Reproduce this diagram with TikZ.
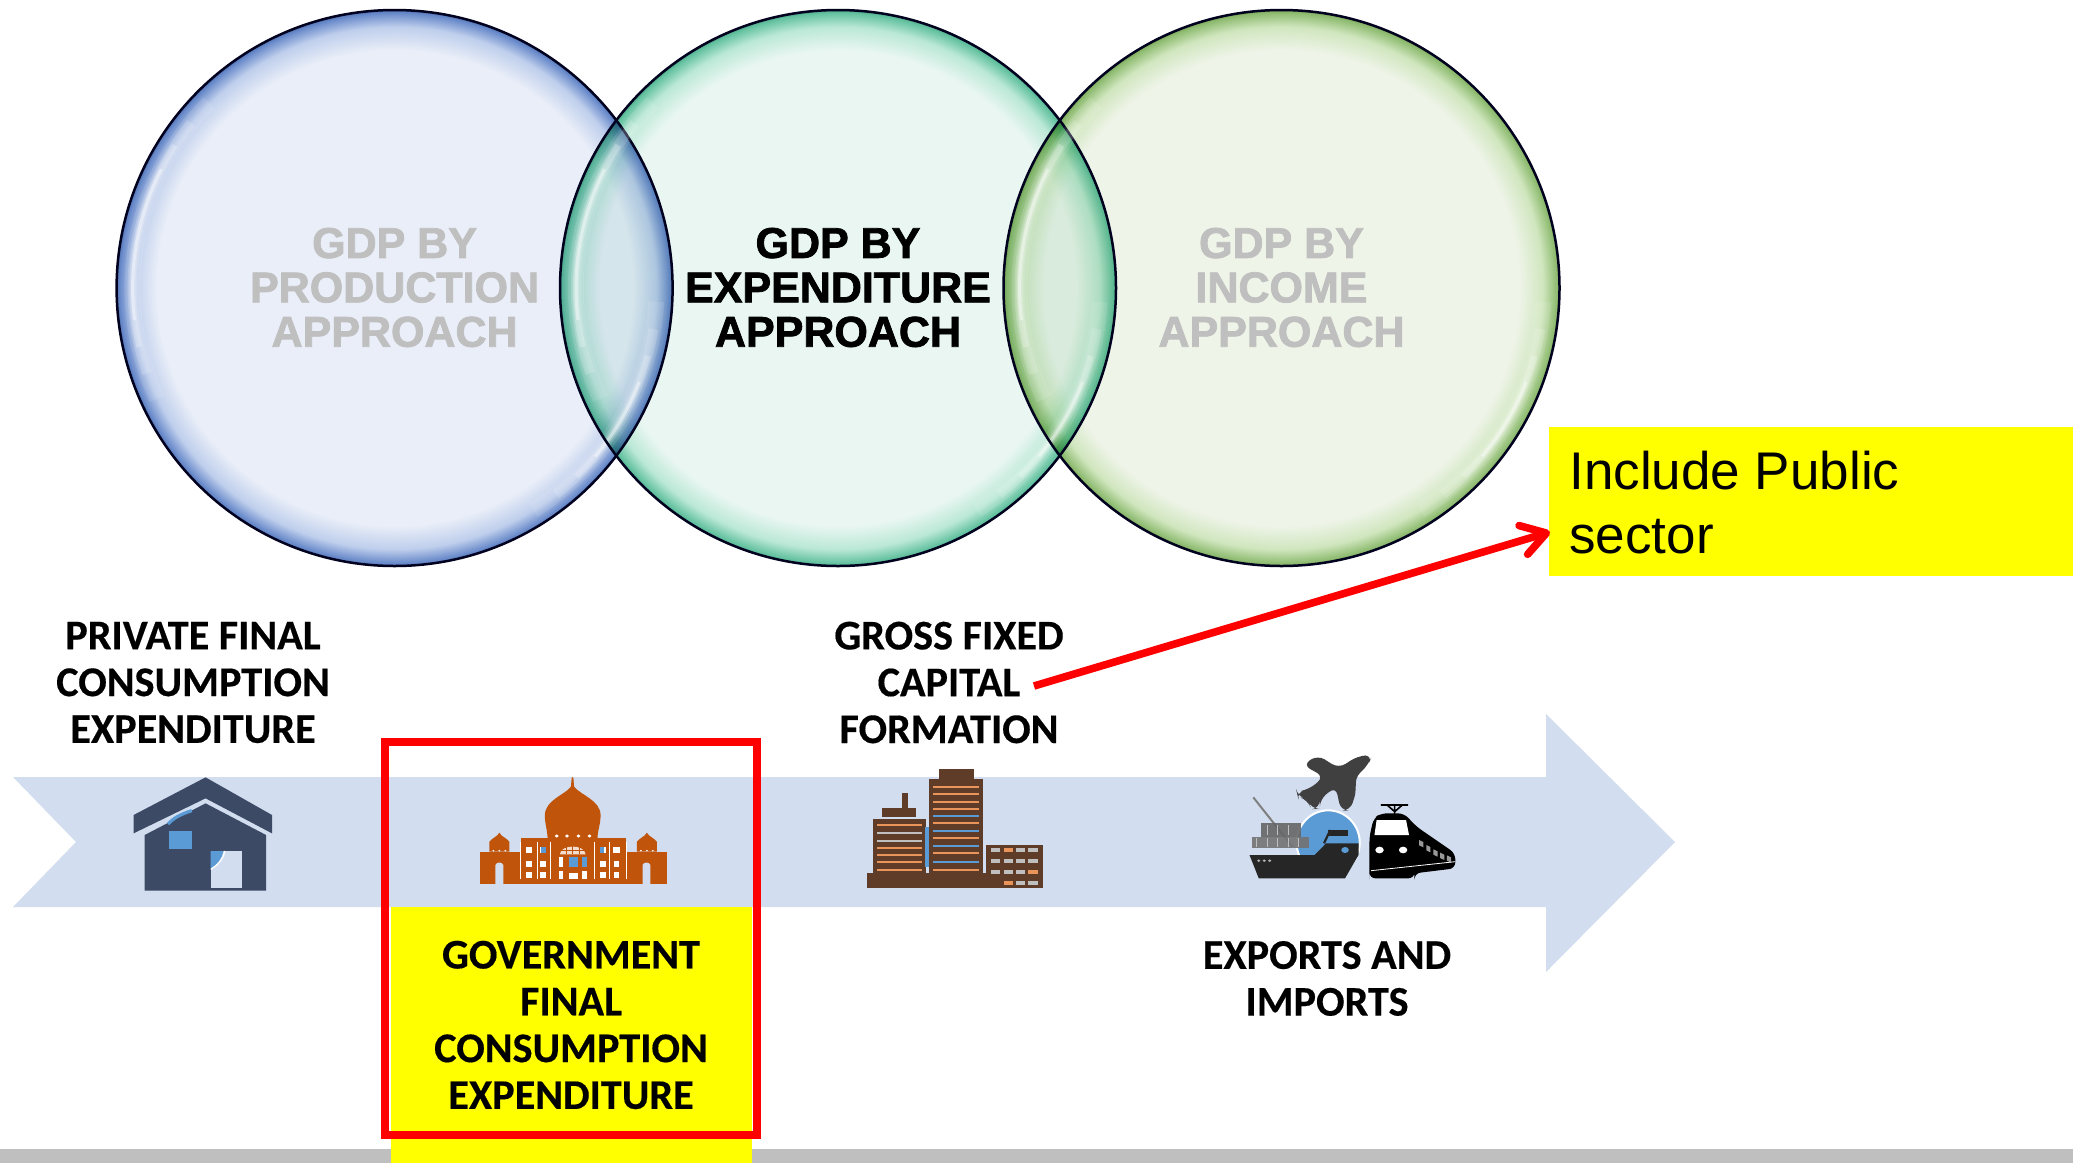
\documentclass[tikz,border=0pt]{standalone}
\usepackage{fontspec}
\usetikzlibrary{arrows.meta}
\setmainfont{Carlito}[BoldFeatures={FakeBold=0.35}]
\newfontfamily\gdpf[FakeBold=1.8]{Liberation Sans Bold}
\newfontfamily\arialf{Liberation Sans}
\definecolor{bandc}{HTML}{D2DDEF}
\definecolor{navyc}{HTML}{3C4A66}
\definecolor{rustc}{HTML}{C0540A}
\definecolor{brownc}{HTML}{5F3C28}
\definecolor{orangec}{HTML}{E8945A}
\definecolor{bluec}{HTML}{5B9BD5}
\definecolor{grayc}{HTML}{BFBFBF}
\definecolor{yellowc}{HTML}{FFFF00}
\definecolor{redc}{HTML}{FF0000}
\pgfdeclareradialshading{bubbleblue}{\pgfpointorigin}{color(0bp)=(rgb,255:red,233;green,238;blue,248); color(21.4bp)=(rgb,255:red,233;green,238;blue,248); color(23.5bp)=(rgb,255:red,190;green,206;blue,236); color(24.8bp)=(rgb,255:red,100;green,134;blue,200); color(25bp)=(rgb,255:red,80;green,110;blue,170); color(50bp)=(rgb,255:red,80;green,110;blue,170)}
\pgfdeclareradialshading{bubblegreen}{\pgfpointorigin}{color(0bp)=(rgb,255:red,233;green,246;blue,242); color(21.4bp)=(rgb,255:red,233;green,246;blue,242); color(23.5bp)=(rgb,255:red,186;green,232;blue,214); color(24.8bp)=(rgb,255:red,96;green,192;blue,158); color(25bp)=(rgb,255:red,80;green,160;blue,130); color(50bp)=(rgb,255:red,80;green,160;blue,130)}
\pgfdeclareradialshading{bubblelime}{\pgfpointorigin}{color(0bp)=(rgb,255:red,238;green,244;blue,232); color(21.4bp)=(rgb,255:red,238;green,244;blue,232); color(23.5bp)=(rgb,255:red,208;green,230;blue,190); color(24.8bp)=(rgb,255:red,140;green,186;blue,110); color(25bp)=(rgb,255:red,120;green,160;blue,85); color(50bp)=(rgb,255:red,120;green,160;blue,85)}
\newcommand{\bubblefill}[3]{%
  \path[shading=#3,blend mode=multiply] (#1,#2) circle [radius=278];}
\newcommand{\bubblerim}[2]{%
  \foreach \wd/\op/\ins in {16/0.10/0,10/0.16/6,6/0.24/12,3/0.4/18}{
    \pgfmathsetmacro{\aa}{155+\ins}\pgfmathsetmacro{\ab}{225-\ins}
    \pgfmathsetmacro{\ac}{3+\ins}\pgfmathsetmacro{\ad}{58-\ins}
    \draw[white,line width=\wd*0.5pt,opacity=\op] (#1,#2) ++(\aa:262) arc [start angle=\aa,end angle=\ab,radius=262];
    \draw[white,line width=\wd*0.5pt,opacity=\op] (#1,#2) ++(\ac:262) arc [start angle=\ac,end angle=\ad,radius=262];
  }
  \draw[black!88!blue,line width=1.25pt] (#1,#2) circle [radius=278];}
\tikzset{
  lab/.style={font=\fontsize{21.1}{23.4}\selectfont\bfseries,align=center,text=black,inner sep=0pt},
  gdplab/.style={font=\gdpf\fontsize{21.5}{22.2}\selectfont,align=center,inner sep=0pt},
}
\begin{document}
\begin{tikzpicture}[x=0.5pt,y=-0.5pt]
\useasboundingbox (0,0) rectangle (2073,1163);
\fill[white] (0,0) rectangle (2073,1163);
% bottom bar
\fill[grayc] (0,1149) rectangle (2073,1163);
% bubbles
\begin{scope}
\bubblefill{394.6}{288}{bubbleblue}
\bubblefill{838}{288}{bubblegreen}
\bubblefill{1281.5}{288}{bubblelime}
\end{scope}
\bubblerim{394.6}{288}
\bubblerim{838}{288}
\bubblerim{1281.5}{288}
\node[gdplab,text=grayc] (prod) at (394.6,287.5) {GDP BY\\PRODUCTION\\APPROACH};
\node[gdplab,text=black] (expd) at (838,287.5) {GDP BY\\EXPENDITURE\\APPROACH};
\node[gdplab,text=grayc] (inco) at (1281.5,287.5) {GDP BY\\INCOME\\APPROACH};
% band arrow
\fill[bandc] (13,777) -- (1546,777) -- (1546,714) -- (1675,842) -- (1546,972) -- (1546,907) -- (13,907) -- (76,842) -- cycle;
% yellow panels
\fill[yellowc] (390.6,907) rectangle (752,1163);
\node[fill=yellowc,minimum width=524*0.5pt,minimum height=149*0.5pt,inner sep=0pt] (inclbox) at (1811,501.5) {};
\node[anchor=west,inner sep=0pt,align=left,font=\arialf\fontsize{26.5}{31.8}\selectfont] (incl) at (1569,502.5) {Include Public\\sector};
% labels
\node[lab] (pfce) at (193,682.5) {PRIVATE FINAL\\CONSUMPTION\\EXPENDITURE};
\node[lab] (gfcf) at (949,682.5) {GROSS FIXED\\CAPITAL\\FORMATION};
\node[lab] (expo) at (1327,978.5) {EXPORTS AND\\IMPORTS};
\node[lab] (gfce) at (571,1025) {GOVERNMENT\\FINAL\\CONSUMPTION\\EXPENDITURE};
% red frame
\node[draw=redc,line width=4pt,minimum width=372*0.5pt,minimum height=393*0.5pt,inner sep=0pt] (frame) at (571,938.5) {};
% connector
\coordinate (astart) at (1034,686);
\coordinate (aend) at (1550,532);
\draw[redc,line width=3.8pt,-{Straight Barb[round,length=12pt,width=15pt,line width=3.8pt]}] (astart) -- (aend);
% house
\begin{scope}[shift={(100,740)},xscale=1/2.529,yscale=1/3]
\fill[navyc] (267,112) -- (435,225) -- (435,280) -- (267,175) -- (85,280) -- (85,225) -- cycle;
\fill[navyc] (113,285) -- (267,190) -- (420,285) -- (420,452) -- (113,452) -- cycle;
\fill[bluec] (175,272) rectangle (233,327);
\fill[bandc] (280,333) rectangle (360,443);
\fill[bluec] (280,333) -- (312,333) .. controls (310,352) and (298,372) .. (280,385) -- cycle;
\draw[white,line width=0.6pt] (316,333) .. controls (312,355) and (300,375) .. (280,388);
\draw[bluec,line width=1.6pt] (172,252) .. controls (186,234) and (205,222) .. (232,212);
\end{scope}
% mosque
\begin{scope}[shift={(100,740)},xscale=1/2.529,yscale=1/3]
\fill[rustc] (1193,112) -- (1197,112) -- (1199,140) .. controls (1215,165) and (1265,180) .. (1266,225) .. controls (1266,255) and (1258,270) .. (1258,300) -- (1132,300) .. controls (1132,270) and (1125,255) .. (1125,225) .. controls (1126,180) and (1175,165) .. (1191,140) -- cycle;
\fill[rustc] (1065,295) rectangle (1330,433);
\fill[rustc] (960,335) rectangle (1433,433);
\fill[rustc] (985,335) -- (985,305) .. controls (990,295) and (1005,290) .. (1010,278) .. controls (1015,290) and (1030,295) .. (1035,305) -- (1035,335) -- cycle;
\fill[rustc] (1358,335) -- (1358,305) .. controls (1363,295) and (1378,290) .. (1383,278) .. controls (1388,290) and (1403,295) .. (1408,305) -- (1408,335) -- cycle;
\fill[bandc] (1000,433) -- (1000,375) .. controls (1003,365) and (1017,365) .. (1020,375) -- (1020,433) -- cycle;
\fill[bandc] (1372,433) -- (1372,375) .. controls (1375,365) and (1389,365) .. (1392,375) -- (1392,433) -- cycle;
\foreach \xx in {1155,1181,1210,1238}{\fill[white] (\xx,288) circle [radius=5];}
\foreach \xx in {995,1010,1025,1368,1383,1398}{\fill[white] (\xx,332) circle [radius=2.5];}
\foreach \xx in {1085,1120,1272,1306}{
  \fill[white] (\xx-8,320) rectangle (\xx+8,338);
  \fill[white] (\xx-7,364) rectangle (\xx+7,380);
  \fill[white] (\xx-7,395) rectangle (\xx+7,415);}
\fill[bluec] (1115,320) rectangle (1128,340);
\fill[bluec] (1265,320) rectangle (1275,340);
\foreach \xx in {1062,1105,1140,1250,1288,1330}{\draw[white,line width=0.4pt] (\xx,305) -- (\xx,418);}
\fill[white!80!rustc] (1163,343) .. controls (1165,312) and (1226,312) .. (1228,343) -- cycle;
\foreach \xx in {1178,1195,1212}{\draw[rustc,line width=0.25pt] (\xx,315) -- (\xx,343);}
\draw[rustc,line width=0.25pt] (1165,330) -- (1226,330);
\fill[white] (1160,350) rectangle (1172,380);
\fill[white] (1220,350) rectangle (1232,380);
\fill[bluec] (1185,350) rectangle (1208,380);
\fill[bluec] (1218,350) rectangle (1232,380);
\fill[white] (1160,392) rectangle (1172,416);
\fill[white] (1185,398) rectangle (1208,416);
\fill[white] (1220,392) rectangle (1232,416);
\end{scope}
% building
\begin{scope}[shift={(840,740)},xscale=1/2.376,yscale=1/3]
\fill[brownc] (63,400) rectangle (482,445);
\fill[brownc] (78,237) rectangle (205,405);
\fill[brownc] (212,117) rectangle (340,405);
\fill[brownc] (235,87) rectangle (318,117);
\fill[brownc] (100,205) rectangle (180,230);
\fill[brownc] (147,160) rectangle (162,205);
\fill[brownc] (347,315) rectangle (482,445);
\foreach \yy/\cc in {256/orangec,278/grayc,302/grayc,323/orangec,346/orangec,367/orangec,390/orangec}{\fill[\cc] (88,\yy-3) rectangle (196,\yy+3);}
\foreach \yy/\cc in {140/orangec,161/orangec,186/orangec,207/orangec,228/bluec,250/orangec,272/bluec,294/orangec,318/bluec,339/orangec,367/bluec,390/orangec}{\fill[\cc] (222,\yy-3) rectangle (330,\yy+3);}
\foreach \yy/\la/\lb/\lc/\ld in {330/grayc/orangec/grayc/grayc,362/grayc/grayc/grayc/grayc,397/grayc/grayc/grayc/orangec}{
  \fill[\la] (358,\yy-6) rectangle (380,\yy+6);
  \fill[\lb] (390,\yy-6) rectangle (412,\yy+6);
  \fill[\lc] (418,\yy-6) rectangle (440,\yy+6);
  \fill[\ld] (447,\yy-6) rectangle (470,\yy+6);}
\fill[orangec] (390,424) rectangle (412,436);
\fill[grayc] (418,424) rectangle (440,436);
\fill[grayc] (447,424) rectangle (470,436);
\fill[bluec] (203,260) rectangle (212,380);
\end{scope}
% ship, plane, train
\begin{scope}[shift={(840,740)},xscale=1/2.376,yscale=1/3]
\fill[bluec,draw=white,line width=1pt] (1160,308) ellipse [x radius=75,y radius=97];
\draw[gray,line width=1pt] (982,172) -- (1075,320);
\fill[black!60,opacity=0.9] (1000,250) rectangle (1095,290);
\fill[black!55,opacity=0.9] (978,290) rectangle (1115,325);
\foreach \xx in {990,1015,1040,1065,1090}{\draw[black!25,line width=0.5pt] (\xx,295) -- (\xx,320);}
\foreach \xx in {1015,1040,1065}{\draw[black!25,line width=0.5pt] (\xx,255) -- (\xx,285);}
\fill[black!85] (973,345) -- (1128,345) -- (1155,310) -- (1232,310) -- (1232,345) -- (1200,415) -- (995,415) -- cycle;
\draw[black!85,line width=1.1pt] (1165,270) -- (1150,310);
\fill[black!85] (1160,270) rectangle (1208,288);
\fill[bluec] (1200,330) circle [radius=9];
\foreach \xx in {995,1008,1021}{\fill[black!30] (\xx,362) circle [radius=4];}
\fill[black!75,rounded corners=4pt] (1265,45) -- (1255,75) -- (1222,115) -- (1228,150) -- (1212,212) -- (1190,212) -- (1178,140) -- (1140,178) -- (1140,205) -- (1120,208) -- (1112,180) -- (1088,170) -- (1085,155) -- (1115,148) -- (1150,110) -- (1100,75) -- (1135,45) -- (1185,85) -- (1230,48) -- cycle;
\fill[black,rounded corners=3pt] (1258,400) -- (1258,290) -- (1268,235) -- (1285,220) -- (1340,220) -- (1370,260) -- (1462,340) -- (1462,385) -- (1365,400) -- (1365,415) -- (1258,415) -- cycle;
\draw[black,line width=0.8pt] (1285,195) -- (1350,195) (1318,195) -- (1318,222) (1300,195) -- (1318,215) -- (1336,195);
\fill[white] (1270,285) -- (1275,240) -- (1345,240) -- (1352,285) -- cycle;
\fill[white] (1282,330) circle [radius=10];
\fill[white] (1338,330) circle [radius=10];
\foreach \xa/\ya in {1380/310,1397/325,1414/338,1430/348,1446/356}{\fill[black!40] (\xa-4,\ya-10) -- (\xa+6,\ya-4) -- (\xa+6,\ya+12) -- (\xa-4,\ya+6) -- cycle;}
\draw[white,line width=0.4pt] (1262,392) -- (1462,365);
\end{scope}
\end{tikzpicture}
\end{document}
